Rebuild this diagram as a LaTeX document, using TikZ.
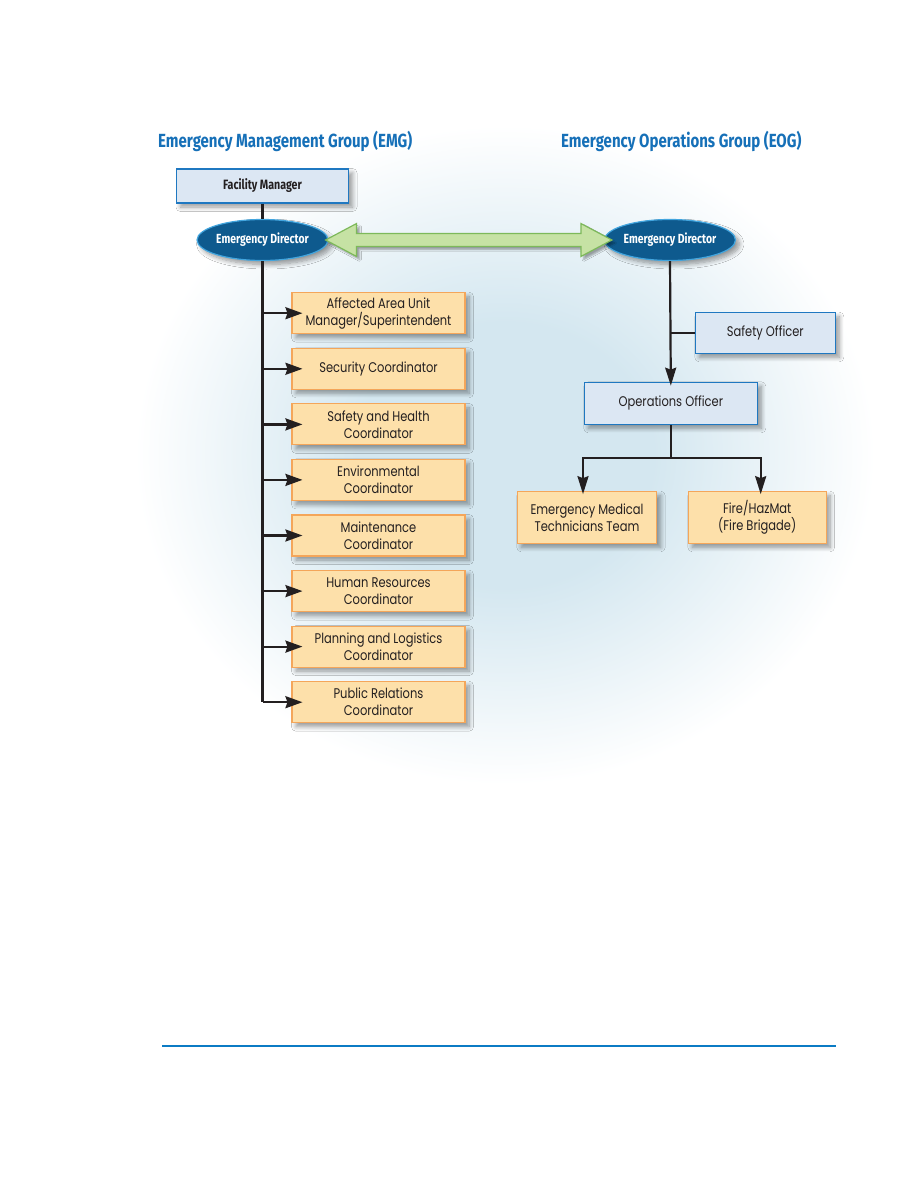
\documentclass[tikz,border=0pt]{standalone}
\usepackage{fontspec}
\usetikzlibrary{shadows.blur,arrows.meta,shapes.geometric,calc}
\newfontfamily\titlefont{Fira Sans}[FakeStretch=0.79]
\newfontfamily\bodyfont{Poppins}[FakeStretch=0.82]
\definecolor{titleblue}{RGB}{22,112,184}
\definecolor{lbfill}{RGB}{220,231,243}
\definecolor{lbdraw}{RGB}{31,120,193}
\definecolor{orfill}{RGB}{253,224,170}
\definecolor{ordraw}{RGB}{244,166,90}
\definecolor{elfill}{RGB}{14,90,142}
\definecolor{eldraw}{RGB}{66,165,222}
\definecolor{grfill}{RGB}{198,226,164}
\definecolor{grdraw}{RGB}{125,185,90}
\definecolor{ink}{RGB}{35,31,32}
\definecolor{glowc}{RGB}{212,231,240}
\definecolor{ruleblue}{RGB}{11,123,196}
\pgfdeclareradialshading{glow}{\pgfpoint{0bp}{0bp}}{color(0bp)=(glowc); color(10bp)=(glowc); color(25bp)=(white); color(50bp)=(white)}
\tikzset{
  titletext/.style={text=titleblue, font=\titlefont\bfseries\fontsize{19}{21}\selectfont, inner sep=0pt},
  shad/.style={blur shadow={shadow xshift=4pt, shadow yshift=-4pt, shadow blur steps=8, shadow opacity=40, shadow blur radius=4.5pt}},
  bluebox/.style={draw=lbdraw, fill=lbfill, line width=1.3pt, inner sep=0pt, align=center, text=ink, shad},
  orbox/.style={draw=ordraw, fill=orfill, line width=1.1pt, inner sep=0pt, align=center, text=ink,
    minimum width=173pt, minimum height=41pt, shad, font=\bodyfont\fontsize{14}{17}\selectfont},
  edell/.style={ellipse, draw=eldraw, fill=elfill, line width=1.2pt, inner sep=0pt, minimum width=124pt,
    minimum height=41pt, text=white, font=\titlefont\bfseries\fontsize{13.2}{15}\selectfont, shad},
  trunk/.style={draw=ink, line width=2.4pt},
  branch/.style={draw=ink, line width=2.2pt, -{Stealth[length=17pt,width=12pt,inset=2pt]}, shorten >=-11pt},
  downarr/.style={draw=ink, line width=2.2pt, -{Stealth[length=18pt,width=11pt,inset=2pt]}, shorten >=-3pt},
  garrow/.style={draw=grdraw, fill=grfill, line width=1.2pt, line join=miter,
    blur shadow={shadow xshift=3pt, shadow yshift=-3pt, shadow blur steps=5, shadow opacity=35}}
}
\begin{document}
\begin{tikzpicture}[x=1pt,y=-1pt]
\useasboundingbox (0,0) rectangle (918,1188);
\fill[white] (0,0) rectangle (918,1188);
\shade[shading=glow] (505,455) ellipse [x radius=370, y radius=330];

% titles
\node[titletext, anchor=west] (t1) at (158,141) {Emergency Management Group (EMG)};
\node[titletext, anchor=west] (t2) at (561,141) {Emergency Operations Group (EOG)};

% left column
\node[bluebox, minimum width=172pt, minimum height=34pt,
  font=\titlefont\bfseries\fontsize{13.5}{15}\selectfont] (fm) at (262.5,186) {Facility Manager};
\node[edell] (ed1) at (262.5,240) {Emergency Director};
\node[edell] (ed2) at (670,240) {Emergency Director};

\node[orbox] (b1) at (378.5,313.2) {Affected Area Unit\\Manager/Superintendent};
\node[orbox] (b2) at (378.5,368.8) {Security Coordinator};
\node[orbox] (b3) at (378.5,424.4) {Safety and Health\\Coordinator};
\node[orbox] (b4) at (378.5,479.9) {Environmental\\Coordinator};
\node[orbox] (b5) at (378.5,535.5) {Maintenance\\Coordinator};
\node[orbox] (b6) at (378.5,591.1) {Human Resources\\Coordinator};
\node[orbox] (b7) at (378.5,646.6) {Planning and Logistics\\Coordinator};
\node[orbox] (b8) at (378.5,702.2) {Public Relations\\Coordinator};

% right column
\node[bluebox, minimum width=140pt, minimum height=40.6pt,
  font=\bodyfont\fontsize{14}{17}\selectfont] (so) at (765.3,333) {Safety Officer};
\node[bluebox, minimum width=173pt, minimum height=42pt,
  font=\bodyfont\fontsize{14}{17}\selectfont] (ops) at (670.8,403.3) {Operations Officer};
\node[orbox, minimum width=139.4pt, minimum height=51.6pt] (emt) at (587,517.5) {Emergency Medical\\Technicians Team};
\node[orbox, minimum width=137.7pt, minimum height=51.6pt] (fire) at (757.2,517.5) {Fire/HazMat\\(Fire Brigade)};

% connectors left
\draw[trunk] (fm.south) -- (ed1.north);
\draw[trunk] (ed1.south) -- (ed1.south |- b8.west);
\foreach \b in {b1,b2,b3,b4,b5,b6,b7,b8}{
  \draw[branch] (ed1.south |- \b.west) -- (\b.west);
}

% green double arrow
\coordinate (gl) at ($(ed1.east)+(-3,0)$);
\coordinate (gr) at ($(ed2.west)+(8,0)$);
\draw[garrow] (gl) -- ($(gl)+(31,-16.5)$) -- ($(gl)+(31,-6.5)$) -- ($(gr)+(-31,-6.5)$)
  -- ($(gr)+(-31,-16.5)$) -- (gr) -- ($(gr)+(-31,16.5)$) -- ($(gr)+(-31,6.5)$)
  -- ($(gl)+(31,6.5)$) -- ($(gl)+(31,16.5)$) -- cycle;

% connectors right
\draw[downarr, shorten >=-4pt] (ed2.south) -- (ops.north);
\draw[draw=ink, line width=1.8pt] (so.west) -- (ed2.south |- so.west);
\coordinate (jn) at ($(ops.south)+(0,33)$);
\draw[trunk] (ops.south) -- (jn);
\draw[downarr] (jn) -| ([xshift=-4pt]emt.north);
\draw[downarr] (jn) -| ([xshift=3.5pt]fire.north);

% bottom rule
\draw[ruleblue, line width=1.6pt] (162,1046) -- (836,1046);
\end{tikzpicture}
\end{document}
